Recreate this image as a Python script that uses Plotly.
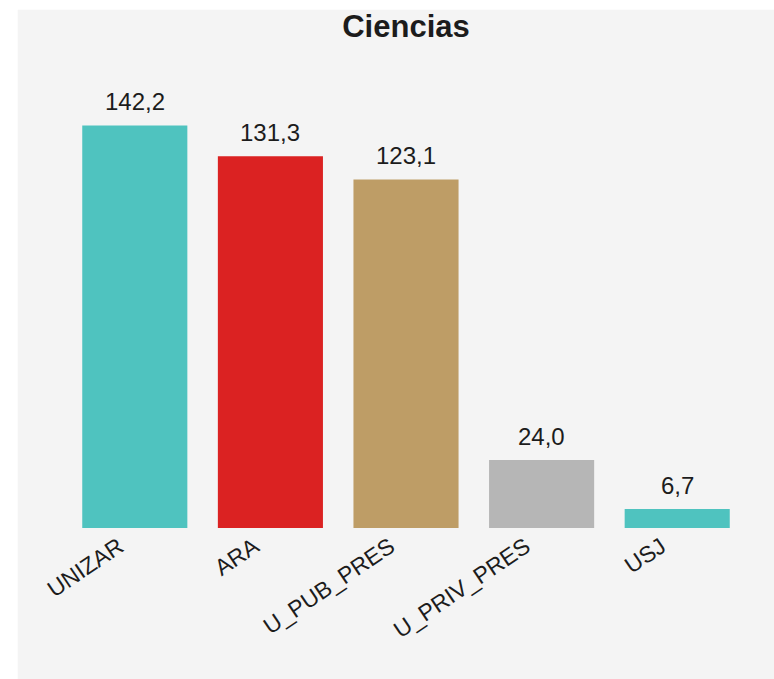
import plotly.graph_objects as go

categories = ["UNIZAR", "ARA", "U_PUB_PRES", "U_PRIV_PRES", "USJ"]
values = [142.2, 131.3, 123.1, 24.0, 6.7]
labels = ["142,2", "131,3", "123,1", "24,0", "6,7"]
colors = ["#4FC3BF", "#DB2222", "#BE9D66", "#B6B6B6", "#4FC3BF"]
title_text = "Ciencias"

FONT = "Liberation Sans, Arial, sans-serif"
TXT = "#1c1c1c"

W, H = 800, 700

fig = go.Figure(
    go.Bar(
        x=categories,
        y=values,
        marker=dict(color=colors, line=dict(width=0)),
        hoverinfo="skip",
    )
)

for c, v, t in zip(categories, values, labels):
    fig.add_annotation(
        x=c, y=v, text=t, showarrow=False, yanchor="bottom", yshift=8,
        font=dict(family=FONT, size=24, color=TXT),
    )

fig.add_shape(
    type="rect", xref="paper", yref="paper",
    x0=-0.0727, x1=1.2, y0=-0.6, y1=1.1443,
    fillcolor="#F4F4F4", line=dict(width=0), layer="below",
)

fig.update_layout(
    width=W,
    height=H,
    margin=dict(l=67.25, r=29.25 + (W - 774), t=74.5, b=150.5 + (H - 679), pad=0),
    paper_bgcolor="white",
    plot_bgcolor="rgba(0,0,0,0)",
    bargap=0.225,
    showlegend=False,
    title=dict(
        text="<b>" + title_text + "</b>",
        x=0.5, xref="paper", xanchor="center",
        y=1 - 26 / H, yref="container", yanchor="middle",
        font=dict(family=FONT, size=31, color=TXT),
    ),
    xaxis=dict(
        type="category",
        tickangle=-34,
        ticklabelshift=-16,
        showgrid=False, showline=False, zeroline=False, ticks="",
        tickfont=dict(family=FONT, size=23, color=TXT),
    ),
    yaxis=dict(range=[0, 160], visible=False, showgrid=False, zeroline=False),
)

fig.write_html(
    "out.html",
    config={"displayModeBar": False},
    post_script="document.body.style.margin='0';document.body.style.overflow='hidden';",
)
